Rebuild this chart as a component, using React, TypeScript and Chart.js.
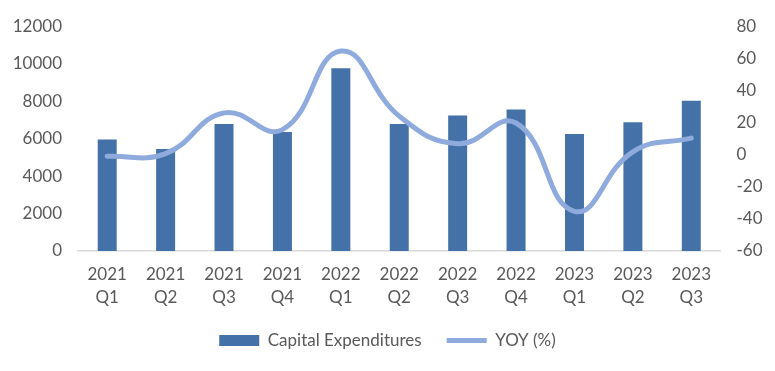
import React, { useEffect, useRef } from "react";
import { Chart, registerables } from "chart.js";

Chart.register(...registerables);

const categories: string[][] = [
  ["2021", "Q1"], ["2021", "Q2"], ["2021", "Q3"], ["2021", "Q4"],
  ["2022", "Q1"], ["2022", "Q2"], ["2022", "Q3"], ["2022", "Q4"],
  ["2023", "Q1"], ["2023", "Q2"], ["2023", "Q3"],
];
const capex: number[] = [5950, 5450, 6780, 6350, 9750, 6780, 7230, 7560, 6240, 6870, 8020];
const yoy: number[] = [-1, 0.7, 26, 15.6, 64.5, 24, 6.8, 19.7, -35.3, 1.8, 10.3];
const leftTicks = { min: 0, max: 12000, step: 2000 };
const rightTicks = { min: -60, max: 80, step: 20 };

const FONT = "Lato, 'Open Sans', sans-serif";
const TEXT = "#595959";
const BAR = "#4472A8";
const LINE = "#8FAADC";
const FS = 17;

export default function App() {
  const ref = useRef<HTMLCanvasElement | null>(null);
  useEffect(() => {
    if (!ref.current) return;
    const chart = new Chart(ref.current, {
      data: {
        labels: categories,
        datasets: [
          {
            type: "bar",
            label: "Capital Expenditures",
            data: capex,
            backgroundColor: BAR,
            borderWidth: 0,
            barPercentage: 0.325,
            categoryPercentage: 1,
            yAxisID: "y",
            order: 1,
            pointStyle: "rect",
          } as any,
          {
            type: "line",
            label: "YOY (%)",
            data: yoy,
            borderColor: LINE,
            backgroundColor: LINE,
            borderWidth: 5,
            pointRadius: 0,
            tension: 0.45,
            yAxisID: "y1",
            order: -1,
            pointStyle: "line",
            borderCapStyle: "round",
          } as any,
        ],
      },
      options: {
        animation: false,
        responsive: false,
        maintainAspectRatio: false,
        layout: { padding: { top: 21, left: 0, right: 0, bottom: 12 } },
        plugins: {
          tooltip: { enabled: false },
          legend: {
            position: "bottom",
            labels: {
              usePointStyle: true,
              pointStyleWidth: 40,
              boxHeight: 11,
              padding: 25,
              color: TEXT,
              font: { family: FONT, size: FS },
              sort: (a: any, b: any) => a.datasetIndex - b.datasetIndex,
            },
          },
        },
        scales: {
          x: {
            grid: { display: false, drawTicks: false },
            border: { display: true, color: "#D9D9D9", width: 1.5 },
            ticks: {
              color: TEXT,
              font: { family: FONT, size: FS, lineHeight: 1.35 },
              padding: 12,
              maxRotation: 0,
              autoSkip: false,
            },
            afterFit: (s: any) => { s.height = 56; },
          },
          y: {
            position: "left",
            min: leftTicks.min,
            max: leftTicks.max,
            grid: { display: false, drawTicks: false },
            border: { display: false },
            ticks: {
              stepSize: leftTicks.step,
              color: TEXT,
              font: { family: FONT, size: FS },
              padding: 16,
              callback: (v: any) => String(v),
            },
            afterFit: (s: any) => { s.width = 78; },
          },
          y1: {
            position: "right",
            min: rightTicks.min,
            max: rightTicks.max,
            grid: { display: false, drawTicks: false },
            border: { display: false },
            ticks: {
              stepSize: rightTicks.step,
              color: TEXT,
              font: { family: FONT, size: FS },
              padding: 16,
              callback: (v: any) => String(v),
            },
            afterFit: (s: any) => { s.width = 54.5; },
          },
        },
      },
    });
    return () => chart.destroy();
  }, []);
  return (
    <div style={{ position: "fixed", left: 0, top: 0, width: 775, height: 371, background: "#fff" }}>
      <canvas ref={ref} width={775} height={371} style={{ width: 775, height: 371 }} />
    </div>
  );
}
